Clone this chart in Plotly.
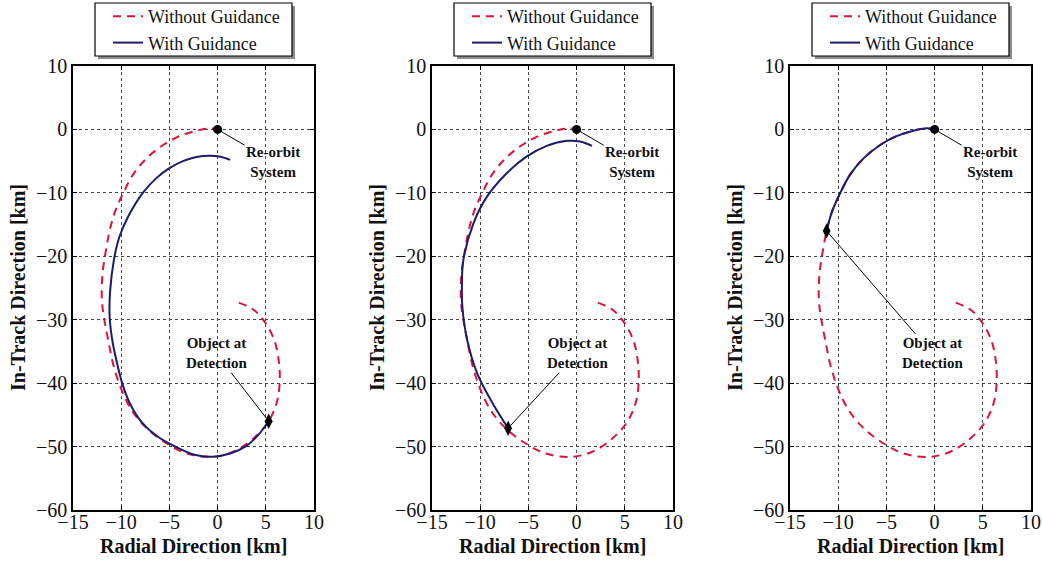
import plotly.graph_objects as go

# ---------------- data ----------------
# Without guidance trajectory (same in every panel)
free_x = [2.2, 3.8, 5.0, 5.9, 6.3, 6.45, 6.2, 5.3, 3.8, 1.8, -0.4, -3.2, -5.8, -7.5,
          -8.9, -9.95, -10.8, -11.35, -11.75, -12.0, -11.95, -11.6, -11.2, -10.65,
          -9.75, -8.8, -7.4, -5.65, -3.95, -2.2, -0.8, 0.0]
free_y = [-27.3, -28.5, -30.6, -33.3, -36.0, -39.0, -42.7, -46.0, -48.6, -50.7, -51.6,
          -51.1, -49.0, -46.9, -44.3, -41.1, -37.2, -33.2, -30.0, -27.0, -23.0, -19.2,
          -16.0, -13.0, -9.9, -7.2, -4.6, -2.45, -1.05, -0.2, 0.17, 0.0]

# With guidance trajectories
g1_x = [5.3, 4.2, 3.0, 1.3, -0.5, -2.4, -4.4, -6.15, -7.9, -9.1, -9.9, -10.5, -10.95,
        -11.2, -11.15, -10.75, -10.2, -9.3, -7.7, -6.3, -5.0, -3.6, -2.2, -0.8, 0.3, 1.3]
g1_y = [-46.0, -48.2, -49.9, -51.1, -51.6, -51.3, -50.0, -48.5, -46.1, -43.2, -40.0,
        -36.4, -33.0, -29.5, -25.5, -20.5, -17.0, -13.8, -9.9, -7.6, -6.1, -5.0, -4.35,
        -4.15, -4.3, -4.8]

g2_x = [-7.1, -8.7, -10.3, -11.35, -11.85, -11.9, -11.75, -10.7, -9.3, -7.25, -5.2,
        -3.1, -1.0, 0.35, 1.6]
g2_y = [-47.1, -43.2, -38.5, -33.2, -28.0, -25.0, -20.6, -14.8, -10.6, -6.9, -4.3,
        -2.6, -1.8, -1.9, -2.6]

g3_x = [-11.2, -10.65, -9.75, -8.8, -7.4, -5.65, -3.95, -2.2, -0.8, 0.0]
g3_y = [-16.0, -13.0, -9.9, -7.2, -4.6, -2.45, -1.05, -0.2, 0.17, 0.0]

guided_x = [g1_x, g2_x, g3_x]
guided_y = [g1_y, g2_y, g3_y]

reorbit_x, reorbit_y = 0.0, 0.0
detect_x = [5.3, -7.1, -11.2]
detect_y = [-46.0, -47.1, -16.0]

# annotation text positions
reorbit_label_x = [5.75, 5.75, 5.75]
reorbit_label_y = [-5.1, -5.1, -5.1]
detect_label_x = [-0.15, 0.05, -0.25]
detect_label_y = [-35.3, -35.3, -35.3]

x_ticks = [-15, -10, -5, 0, 5, 10]
y_ticks = [-60, -50, -40, -30, -20, -10, 0, 10]

def fmt(v):
    return ("\u2212" + str(-v)) if v < 0 else str(v)

x_ticktext = [fmt(v) for v in x_ticks]
y_ticktext = [fmt(v) for v in y_ticks]

series_names = ["Without Guidance", "With Guidance"]
x_title = "Radial Direction [km]"
y_title = "In-Track Direction [km]"

# ---------------- style ----------------
RED = "#dc143c"
NAVY = "#1c1c6e"
FONT = "Liberation Serif"

W, H = 1042, 562
L, R, T, B = 73, 11, 66, 52
pw = W - L - R
ph = H - T - B
panel_px = [(73, 314), (432, 673), (790, 1031)]
domains = [[(a - L) / pw, (b - L) / pw] for a, b in panel_px]

def px2paper_x(px):
    return (px - L) / pw

def px2paper_y(py):
    return (H - B - py) / ph

fig = go.Figure()
shapes = []

for i in range(3):
    xa = "x" if i == 0 else f"x{i+1}"
    ya = "y" if i == 0 else f"y{i+1}"
    lg = "legend" if i == 0 else f"legend{i+1}"
    off = panel_px[i][0] - panel_px[0][0]
    fig.add_trace(go.Scatter(
        x=free_x, y=free_y, mode="lines", name=series_names[0],
        line=dict(color=RED, width=2, dash="8px,6px", shape="spline", smoothing=1.0),
        xaxis=xa, yaxis=ya, legend=lg, hoverinfo="skip"))
    fig.add_trace(go.Scatter(
        x=guided_x[i], y=guided_y[i], mode="lines", name=series_names[1],
        line=dict(color=NAVY, width=2, shape="spline", smoothing=1.0),
        xaxis=xa, yaxis=ya, legend=lg, hoverinfo="skip"))
    fig.add_trace(go.Scatter(
        x=[reorbit_x], y=[reorbit_y], mode="markers", showlegend=False,
        marker=dict(color="black", size=9, symbol="circle"),
        xaxis=xa, yaxis=ya, hoverinfo="skip"))
    fig.add_trace(go.Scatter(
        x=[detect_x[i]], y=[detect_y[i]], mode="markers", showlegend=False,
        marker=dict(color="black", size=11, symbol="diamond-tall"),
        xaxis=xa, yaxis=ya, hoverinfo="skip"))

    axis_common = dict(
        showline=True, linecolor="black", linewidth=1.5, mirror="ticks",
        ticks="inside", ticklen=4, tickcolor="black", automargin=False,
        showgrid=True, gridcolor="#444", gridwidth=1, griddash="dot",
        zeroline=False, tickfont=dict(family=FONT, size=20, color="#111"),
    )
    xkey = "xaxis" if i == 0 else f"xaxis{i+1}"
    ykey = "yaxis" if i == 0 else f"yaxis{i+1}"
    fig.update_layout(**{
        xkey: dict(axis_common, domain=domains[i], range=[-15, 10], anchor=ya,
                   tickvals=x_ticks, ticktext=x_ticktext, ticklabelstandoff=-7),
        ykey: dict(axis_common, domain=[0, 1], range=[-60, 10], anchor=xa,
                   tickvals=y_ticks, ticktext=y_ticktext),
        lg: dict(x=px2paper_x(108 + off), xanchor="left",
                 y=px2paper_y(29.5), yanchor="middle",
                 xref="paper", yref="paper",
                 bgcolor="rgba(0,0,0,0)", borderwidth=0,
                 font=dict(family=FONT, size=18, color="#111"),
                 tracegroupgap=0, itemwidth=30),
    })

    # legend frame with drop shadow (drawn as shapes behind the legend)
    bx0, bx1, by0, by1 = 95 + off, 292 + off, 3, 56
    shapes.append(dict(type="rect", xref="paper", yref="paper", layer="above",
                       x0=px2paper_x(bx0 + 3), x1=px2paper_x(bx1 + 3),
                       y0=px2paper_y(by1 + 3), y1=px2paper_y(by0 + 3),
                       fillcolor="#8c8c8c", line=dict(width=0)))
    shapes.append(dict(type="rect", xref="paper", yref="paper", layer="above",
                       x0=px2paper_x(bx0), x1=px2paper_x(bx1),
                       y0=px2paper_y(by1), y1=px2paper_y(by0),
                       fillcolor="white", line=dict(color="black", width=1.2)))

    # axis titles
    fig.add_annotation(
        x=(domains[i][0] + domains[i][1]) / 2, y=px2paper_y(546),
        xref="paper", yref="paper", xanchor="center", yanchor="middle",
        text=f"<b>{x_title}</b>", showarrow=False,
        font=dict(family=FONT, size=20, color="#111"))
    fig.add_annotation(
        x=px2paper_x(panel_px[i][0] - 55), y=0.5,
        xref="paper", yref="paper", xanchor="center", yanchor="middle",
        text=f"<b>{y_title}</b>", showarrow=False, textangle=-90,
        font=dict(family=FONT, size=20, color="#111"))

    fig.add_annotation(
        x=reorbit_x, y=reorbit_y, ax=reorbit_label_x[i], ay=reorbit_label_y[i],
        xref=xa, yref=ya, axref=xa, ayref=ya,
        text="<b>Re-orbit<br>System</b>", showarrow=True, arrowhead=0,
        arrowwidth=1, arrowcolor="black", standoff=4,
        font=dict(family=FONT, size=15, color="#111"))
    fig.add_annotation(
        x=detect_x[i], y=detect_y[i], ax=detect_label_x[i], ay=detect_label_y[i],
        xref=xa, yref=ya, axref=xa, ayref=ya,
        text="<b>Object at<br>Detection</b>", showarrow=True, arrowhead=0,
        arrowwidth=1, arrowcolor="black", standoff=3,
        font=dict(family=FONT, size=15, color="#111"))

fig.update_layout(
    width=W, height=H,
    margin=dict(l=L, r=R, t=T, b=B, autoexpand=False),
    paper_bgcolor="white", plot_bgcolor="white",
    font=dict(family=FONT, color="#111"),
    showlegend=True,
    shapes=shapes,
)

fig.write_html(
    "out.html",
    config={"displayModeBar": False},
    post_script="document.body.style.margin='0px';document.body.style.overflow='hidden';",
)
